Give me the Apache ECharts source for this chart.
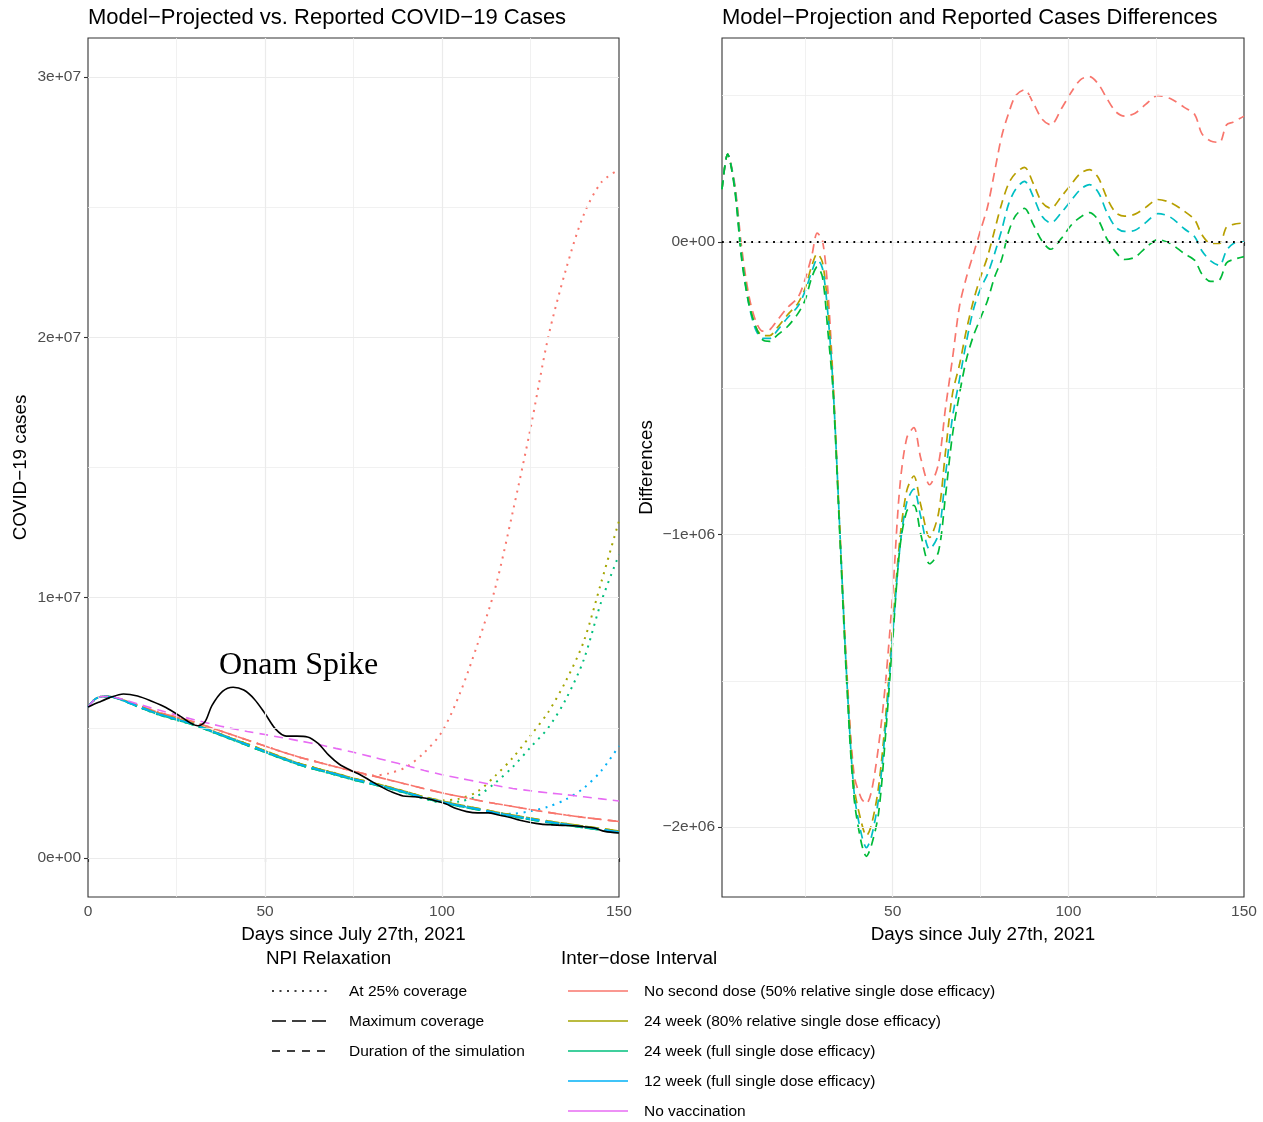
<!DOCTYPE html>
<html>
<head>
<meta charset="utf-8">
<script src="https://cdn.jsdelivr.net/npm/echarts@6/dist/echarts.min.js"></script>
<style>
  html, body { margin: 0; padding: 0; background: #fff; }
  #chart { width: 1263px; height: 1122px; }
</style>
</head>
<body>
<div id="chart"></div>
<script>
// values in millions of cases, x = days since July 27th, 2021
const modelDays = [0, 2, 4, 6, 8, 10, 15, 20, 25, 30, 35, 40, 45, 50, 55, 60, 65, 70, 75, 80, 85, 90, 95, 100, 105, 110, 115, 120, 125, 130, 135, 140, 145, 150]

const noSecondDose = [5.80, 6.10, 6.20, 6.20, 6.15, 6.07, 5.82, 5.59, 5.41, 5.22, 4.99, 4.76, 4.53, 4.30, 4.07, 3.86, 3.68, 3.50, 3.33, 3.17, 3.00, 2.83, 2.66, 2.50, 2.36, 2.22, 2.09, 1.98, 1.86, 1.75, 1.65, 1.56, 1.48, 1.40]
const noSecondDose25 = [5.80, 6.10, 6.20, 6.20, 6.15, 6.07, 5.82, 5.59, 5.41, 5.22, 4.99, 4.76, 4.53, 4.30, 4.07, 3.86, 3.68, 3.50, 3.33, 3.17, 3.25, 3.50, 4.05, 4.85, 6.30, 8.20, 10.35, 13.30, 16.50, 20.00, 22.60, 24.70, 25.95, 26.45]
const week24Partial = [5.80, 6.10, 6.20, 6.20, 6.15, 6.06, 5.80, 5.55, 5.35, 5.15, 4.89, 4.63, 4.38, 4.12, 3.86, 3.62, 3.43, 3.25, 3.06, 2.90, 2.73, 2.54, 2.34, 2.19, 2.04, 1.91, 1.77, 1.65, 1.53, 1.42, 1.32, 1.22, 1.13, 1.03]
const week24Partial25 = [5.80, 6.10, 6.20, 6.20, 6.15, 6.06, 5.80, 5.55, 5.35, 5.15, 4.89, 4.63, 4.38, 4.12, 3.86, 3.62, 3.43, 3.25, 3.06, 2.90, 2.73, 2.54, 2.34, 2.22, 2.28, 2.55, 3.15, 3.85, 4.70, 5.60, 6.80, 8.30, 10.60, 12.95]
const week24Full = [5.80, 6.10, 6.20, 6.19, 6.14, 6.04, 5.76, 5.50, 5.30, 5.10, 4.84, 4.58, 4.32, 4.06, 3.80, 3.56, 3.37, 3.19, 3.00, 2.84, 2.67, 2.48, 2.28, 2.13, 1.98, 1.85, 1.71, 1.59, 1.47, 1.36, 1.26, 1.16, 1.07, 0.97]
const week24Full25 = [5.80, 6.10, 6.20, 6.19, 6.14, 6.04, 5.76, 5.50, 5.30, 5.10, 4.84, 4.58, 4.32, 4.06, 3.80, 3.56, 3.37, 3.19, 3.00, 2.84, 2.67, 2.48, 2.28, 2.13, 2.17, 2.38, 2.88, 3.50, 4.25, 5.00, 6.10, 7.60, 9.85, 11.65]
const week12Full = [5.80, 6.10, 6.20, 6.20, 6.15, 6.05, 5.78, 5.53, 5.33, 5.13, 4.87, 4.61, 4.35, 4.09, 3.83, 3.59, 3.40, 3.22, 3.03, 2.87, 2.70, 2.51, 2.31, 2.16, 2.01, 1.88, 1.74, 1.62, 1.50, 1.39, 1.29, 1.19, 1.10, 1.00]
const week12Full25 = [5.80, 6.10, 6.20, 6.20, 6.15, 6.05, 5.78, 5.53, 5.33, 5.13, 4.87, 4.61, 4.35, 4.09, 3.83, 3.59, 3.40, 3.22, 3.03, 2.87, 2.70, 2.51, 2.31, 2.16, 2.01, 1.88, 1.74, 1.70, 1.80, 1.97, 2.25, 2.68, 3.35, 4.30]
const noVaccination = [5.80, 6.10, 6.20, 6.20, 6.16, 6.09, 5.88, 5.68, 5.49, 5.31, 5.14, 4.99, 4.86, 4.74, 4.62, 4.49, 4.36, 4.21, 4.06, 3.89, 3.72, 3.55, 3.36, 3.20, 3.06, 2.93, 2.79, 2.67, 2.58, 2.50, 2.43, 2.35, 2.27, 2.19]

const reportedDays = [0, 3, 6, 10, 14, 18, 22, 26, 29, 31, 33, 35, 38, 41, 44, 47, 50, 53, 56, 59, 62, 65, 68, 71, 74, 77, 80, 83, 86, 89, 92, 95, 98, 101, 104, 107, 110, 113, 116, 119, 122, 125, 128, 131, 134, 137, 140, 143, 146, 150]
const reportedCases = [5.80, 5.98, 6.15, 6.30, 6.22, 6.02, 5.78, 5.45, 5.18, 5.08, 5.22, 5.85, 6.40, 6.56, 6.45, 6.10, 5.55, 4.95, 4.68, 4.68, 4.65, 4.40, 3.95, 3.60, 3.38, 3.19, 2.95, 2.72, 2.52, 2.38, 2.35, 2.30, 2.20, 2.08, 1.90, 1.78, 1.73, 1.73, 1.65, 1.56, 1.45, 1.36, 1.30, 1.27, 1.25, 1.24, 1.20, 1.15, 1.02, 0.96]

// differences (model - reported), millions
const diffDays = [1.4, 3, 5, 7, 9, 11, 13, 15, 17, 20, 23, 25, 27, 28.5, 30, 31.5, 33, 35, 37, 39, 41, 42.5, 44, 46, 48, 50, 52, 54, 56, 58, 60.5, 63, 65, 67, 69, 71, 73, 75, 77, 79, 81, 83, 85, 87.5, 90, 92.5, 95, 98, 101, 103.5, 106, 108.5, 111, 113.5, 116, 119, 122, 125.5, 129, 133, 136, 138, 140.5, 143, 145, 147, 150]
const diffNoSecondDose = [0.18, 0.30, 0.20, -0.02, -0.18, -0.27, -0.305, -0.30, -0.27, -0.225, -0.19, -0.13, -0.045, 0.03, 0.005, -0.16, -0.47, -1.00, -1.48, -1.82, -1.90, -1.92, -1.875, -1.72, -1.50, -1.20, -0.84, -0.67, -0.635, -0.74, -0.83, -0.76, -0.57, -0.40, -0.22, -0.12, -0.04, 0.04, 0.12, 0.24, 0.36, 0.44, 0.50, 0.52, 0.475, 0.42, 0.40, 0.455, 0.515, 0.555, 0.565, 0.54, 0.49, 0.445, 0.43, 0.44, 0.47, 0.50, 0.49, 0.46, 0.435, 0.37, 0.345, 0.34, 0.40, 0.41, 0.43]
const diffWeek24Partial = [0.18, 0.30, 0.19, -0.04, -0.20, -0.29, -0.32, -0.32, -0.295, -0.25, -0.21, -0.16, -0.08, -0.04, -0.07, -0.22, -0.48, -1.00, -1.50, -1.86, -1.98, -2.03, -1.99, -1.86, -1.62, -1.31, -1.02, -0.85, -0.80, -0.90, -1.01, -0.93, -0.72, -0.52, -0.42, -0.30, -0.20, -0.12, -0.05, 0.04, 0.13, 0.20, 0.235, 0.255, 0.20, 0.135, 0.115, 0.155, 0.20, 0.235, 0.247, 0.22, 0.15, 0.10, 0.088, 0.095, 0.118, 0.145, 0.135, 0.105, 0.075, 0.025, -0.005, -0.005, 0.05, 0.06, 0.065]
const diffWeek12Full = [0.18, 0.30, 0.19, -0.05, -0.21, -0.30, -0.33, -0.33, -0.305, -0.26, -0.22, -0.17, -0.10, -0.06, -0.09, -0.24, -0.49, -1.00, -1.51, -1.88, -2.02, -2.07, -2.03, -1.90, -1.65, -1.34, -1.05, -0.89, -0.845, -0.94, -1.05, -1.00, -0.80, -0.60, -0.47, -0.34, -0.23, -0.16, -0.11, -0.04, 0.04, 0.13, 0.18, 0.207, 0.155, 0.088, 0.065, 0.10, 0.145, 0.18, 0.196, 0.17, 0.10, 0.05, 0.036, 0.04, 0.066, 0.097, 0.085, 0.045, 0.017, -0.03, -0.065, -0.08, -0.03, -0.005, 0.0]
const diffWeek24Full = [0.18, 0.30, 0.18, -0.06, -0.21, -0.29, -0.335, -0.34, -0.32, -0.29, -0.245, -0.20, -0.12, -0.085, -0.12, -0.30, -0.51, -1.02, -1.53, -1.90, -2.05, -2.10, -2.06, -1.95, -1.68, -1.36, -1.05, -0.92, -0.90, -1.00, -1.10, -1.06, -0.87, -0.66, -0.52, -0.40, -0.32, -0.26, -0.20, -0.12, -0.06, 0.035, 0.09, 0.115, 0.06, 0.003, -0.025, 0.012, 0.06, 0.085, 0.10, 0.075, 0.01, -0.035, -0.06, -0.052, -0.02, 0.008, -0.005, -0.04, -0.063, -0.11, -0.135, -0.13, -0.072, -0.06, -0.05]

// ticks
const dayTicksLeft = [0, 50, 100, 150]
const dayTicksRight = [50, 100, 150]
const dayMajorGrid = [50, 100]
const dayMinorGrid = [25, 75, 125]
const casesTicks = [0, 10, 20, 30]
const casesTickLabels = ['0e+00', '1e+07', '2e+07', '3e+07']
const casesMinorGrid = [5, 15, 25]
const diffTicks = [-2, -1, 0]
const diffTickLabels = ['\u22122e+06', '\u22121e+06', '0e+00']
const diffMinorGrid = [-1.5, -0.5, 0.5]

const npiLabels = ['At 25% coverage', 'Maximum coverage', 'Duration of the simulation']
const intervalLabels = [
  'No second dose (50% relative single dose efficacy)',
  '24 week (80% relative single dose efficacy)',
  '24 week (full single dose efficacy)',
  '12 week (full single dose efficacy)',
  'No vaccination'
]

const FONT = '"Liberation Sans", Arial, Helvetica, sans-serif'
const leftColors = ['#F8766D', '#A3A500', '#00BF7D', '#00B0F6', '#E76BF3']
const rightColors = { red: '#F8766D', gold: '#B79F00', cyan: '#00BFC4', green: '#00BA38' }
const DOTTED = [2, 5.5]
const LONGDASH = [14, 6]
const DASHED = [8, 7]

const pairs = (xs, ys) => xs.map((x, i) => [x, ys[i]])

const lineSeries = (name, xs, ys, color, dash, width, grid, z) => ({
  name,
  type: 'line',
  xAxisIndex: grid,
  yAxisIndex: grid,
  data: pairs(xs, ys),
  showSymbol: false,
  symbol: 'none',
  smooth: 0.3,
  silent: true,
  z,
  lineStyle: { color, width, type: dash, cap: 'butt' }
})

const gridLineSeries = (grid, majorX, minorX, majorY, minorY) => {
  const major = { color: '#EBEBEB', width: 1.2, type: 'solid' }
  const minor = { color: '#EDEDED', width: 0.8, type: 'solid' }
  return {
    type: 'line',
    xAxisIndex: grid,
    yAxisIndex: grid,
    data: [],
    silent: true,
    z: 1,
    markLine: {
      silent: true,
      symbol: 'none',
      animation: false,
      label: { show: false },
      emphasis: { disabled: true },
      data: [
        ...minorX.map(v => ({ xAxis: v, lineStyle: minor })),
        ...minorY.map(v => ({ yAxis: v, lineStyle: minor })),
        ...majorX.map(v => ({ xAxis: v, lineStyle: major })),
        ...majorY.map(v => ({ yAxis: v, lineStyle: major }))
      ]
    }
  }
}

const leftSets = [
  [noSecondDose25, noSecondDose],
  [week24Partial25, week24Partial],
  [week24Full25, week24Full],
  [week12Full25, week12Full]
]

const series = [
  gridLineSeries(0, dayMajorGrid, dayMinorGrid, casesTicks, casesMinorGrid),
  gridLineSeries(1, dayMajorGrid, dayMinorGrid, diffTicks, diffMinorGrid)
]

// left panel: dotted relaxations first, then long dash / dash
leftSets.forEach((set, i) => {
  series.push(lineSeries(intervalLabels[i] + ' / ' + npiLabels[0], modelDays, set[0], leftColors[i], DOTTED, 2, 0, 2))
})
leftSets.forEach((set, i) => {
  series.push(lineSeries(intervalLabels[i] + ' / ' + npiLabels[1], modelDays, set[1], leftColors[i], LONGDASH, 1.6, 0, 3))
  series.push(lineSeries(intervalLabels[i] + ' / ' + npiLabels[2], modelDays, set[1], leftColors[i], DASHED, 1.6, 0, 3))
})
series.push(lineSeries(intervalLabels[4], modelDays, noVaccination, leftColors[4], [9, 6], 1.6, 0, 3))

const reported = lineSeries('Reported', reportedDays, reportedCases, '#000', 'solid', 1.6, 0, 4)
reported.markPoint = {
  silent: true,
  symbol: 'circle',
  symbolSize: 0,
  itemStyle: { color: 'transparent' },
  label: {
    show: true,
    position: 'inside',
    formatter: 'Onam Spike',
    fontFamily: '"Liberation Serif", "Times New Roman", serif',
    fontSize: 32,
    color: '#000'
  },
  data: [{ coord: [59.5, 7.38] }]
}
series.push(reported)

// right panel
series.push(lineSeries('diff no second dose', diffDays, diffNoSecondDose, rightColors.red, [9, 6], 1.7, 1, 3))
series.push(lineSeries('diff 24 week 80%', diffDays, diffWeek24Partial, rightColors.gold, [9, 6], 1.7, 1, 3))
series.push(lineSeries('diff 12 week', diffDays, diffWeek12Full, rightColors.cyan, [9, 6], 1.7, 1, 3))
series.push(lineSeries('diff 24 week full', diffDays, diffWeek24Full, rightColors.green, [9, 6], 1.7, 1, 3))
series.push({
  type: 'line',
  xAxisIndex: 1,
  yAxisIndex: 1,
  data: [],
  silent: true,
  z: 5,
  markLine: {
    silent: true,
    symbol: 'none',
    animation: false,
    label: { show: false },
    emphasis: { disabled: true },
    lineStyle: { color: '#000', width: 1.8, type: [1.8, 5.5] },
    data: [{ yAxis: 0 }]
  }
})

const tickStyle = { show: true, length: 4, lineStyle: { color: '#333', width: 1.1 } }
const labelStyle = { color: '#4D4D4D', fontSize: 15.5, fontFamily: FONT }
const nameStyle = { color: '#000', fontSize: 18.8, fontFamily: FONT }

const xAxisCfg = (grid, min, ticks) => ({
  gridIndex: grid,
  type: 'value',
  min,
  max: 150,
  axisLine: { show: false },
  axisTick: { ...tickStyle, customValues: ticks },
  axisLabel: { ...labelStyle, margin: 7, customValues: ticks },
  splitLine: { show: false },
  name: 'Days since July 27th, 2021',
  nameLocation: 'middle',
  nameGap: 25,
  nameTextStyle: nameStyle
})

const yAxisCfg = (grid, min, max, ticks, labels, name, gap) => ({
  gridIndex: grid,
  type: 'value',
  min,
  max,
  axisLine: { show: false },
  axisTick: { ...tickStyle, customValues: ticks },
  axisLabel: {
    ...labelStyle,
    margin: 7,
    customValues: ticks,
    formatter: v => labels[ticks.indexOf(v)]
  },
  splitLine: { show: false },
  name,
  nameLocation: 'middle',
  nameGap: gap,
  nameRotate: 90,
  nameTextStyle: nameStyle
})

// legend drawn as graphic keys
const legendText = (text, x, y, size) => ({
  type: 'text',
  x, y,
  style: { text, fill: '#000', font: size + 'px ' + FONT, verticalAlign: 'middle', align: 'left' }
})
const legendKey = (x1, x2, y, stroke, lineDash) => ({
  type: 'line',
  shape: { x1, y1: y, x2, y2: y },
  style: { stroke, lineWidth: 1.6, lineDash }
})

const npiDashes = [DOTTED, LONGDASH, DASHED]
const legendRows = [992, 1022, 1052, 1082, 1112]
const graphic = [
  legendText('NPI Relaxation', 266, 959, 18.8),
  legendText('Inter\u2212dose Interval', 561, 959, 18.8),
  ...npiLabels.map((t, i) => legendKey(272, 328, legendRows[i] - 1, '#000', npiDashes[i])),
  ...npiLabels.map((t, i) => legendText(t, 349, legendRows[i], 15.5)),
  ...intervalLabels.map((t, i) => legendKey(568, 628, legendRows[i] - 1, leftColors[i], null)),
  ...intervalLabels.map((t, i) => legendText(t, 644, legendRows[i], 15.5))
]

const chart = echarts.init(document.getElementById('chart'))
chart.setOption({
  animation: false,
  backgroundColor: '#fff',
  title: [
    {
      text: 'Model\u2212Projected vs. Reported COVID\u221219 Cases',
      left: 88, top: 7, padding: 0,
      textStyle: { fontSize: 22, fontWeight: 'normal', color: '#000', fontFamily: FONT }
    },
    {
      text: 'Model\u2212Projection and Reported Cases Differences',
      left: 722, top: 7, padding: 0,
      textStyle: { fontSize: 22, fontWeight: 'normal', color: '#000', fontFamily: FONT }
    }
  ],
  grid: [
    { left: 88, top: 38, width: 531, height: 859, show: true, borderColor: '#333', borderWidth: 1.1, backgroundColor: '#fff' },
    { left: 722, top: 38, width: 522, height: 859, show: true, borderColor: '#333', borderWidth: 1.1, backgroundColor: '#fff' }
  ],
  xAxis: [
    xAxisCfg(0, 0, dayTicksLeft),
    xAxisCfg(1, 1.4, dayTicksRight)
  ],
  yAxis: [
    yAxisCfg(0, -1.5, 31.5, casesTicks, casesTickLabels, 'COVID\u221219 cases', 58),
    yAxisCfg(1, -2.239, 0.697, diffTicks, diffTickLabels, 'Differences', 66)
  ],
  graphic,
  series
})
</script>
</body>
</html>
